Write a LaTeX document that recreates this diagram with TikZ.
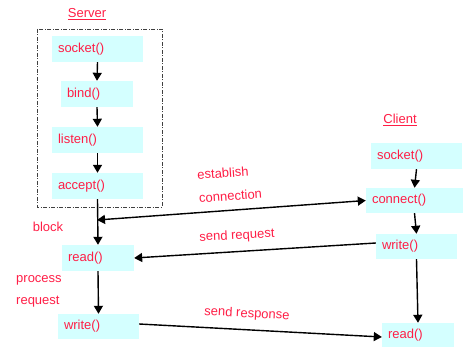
\documentclass[tikz,border=0pt]{standalone}
\usepackage{fontspec}
\setmainfont{Liberation Sans}
\usetikzlibrary{arrows.meta}
\definecolor{txtred}{RGB}{255,30,70}
\definecolor{boxfill}{RGB}{212,255,255}
\begin{document}
\begin{tikzpicture}[x=1pt,y=-1pt,
  font=\fontsize{13}{15}\selectfont,
  lbl/.style={text=txtred, inner sep=0pt},
  fbox/.style={fill=boxfill, text=txtred, inner ysep=0pt, inner xsep=6pt, align=left, anchor=center},
  arr/.style={line width=1.4pt, -{Triangle[length=8pt,width=9pt]}},
  darr/.style={line width=1.4pt, {Triangle[length=8pt,width=9pt]}-{Triangle[length=8pt,width=9pt]}}
]
\useasboundingbox (0,0) rectangle (463,347);
% dashed server frame
\draw[black!75, line width=0.9pt, dash pattern=on 4pt off 1.5pt on 1pt off 1.5pt] (37,29) rectangle (162,207);
% titles
\node[lbl] (tserver) at (87,14) {\underline{Server}};
\node[lbl] (tclient) at (400,120) {\underline{Client}};
% server boxes
\node[fbox, text width=79pt, minimum height=26pt] (ssock) at (97.5,49) {socket()};
\node[fbox, text width=60pt, minimum height=26pt] (sbind) at (97,94) {bind()};
\node[fbox, text width=79pt, minimum height=26pt] (slisten) at (97.5,140) {listen()};
\node[fbox, text width=79pt, minimum height=26pt] (saccept) at (97.5,186) {accept()};
\node[fbox, text width=60pt, minimum height=26pt] (sread) at (98,258) {read()};
\node[fbox, text width=69pt, minimum height=25pt] (swrite) at (98.5,326.5) {write()};
% client boxes
\node[fbox, text width=79pt, minimum height=26pt] (csock) at (416.5,156) {socket()};
\node[fbox, text width=85pt, minimum height=25pt] (cconn) at (414.5,200.5) {connect()};
\node[fbox, text width=69pt, minimum height=25pt] (cwrite) at (416.5,246.5) {write()};
\node[fbox, text width=60pt, minimum height=24pt] (cread) at (418,335) {read()};
% server arrows
\draw[arr] (ssock.south) -- (sbind.north);
\draw[arr] (sbind.south) -- (slisten.north);
\draw[arr] (slisten.south) -- (saccept.north);
\draw[arr] (saccept.south) -- (sread.north);
\draw[arr] (sread.south) -- (swrite.north);
% client arrows
\draw[arr] (csock.south) -- (cconn.north);
\draw[arr] (cconn.south) -- (cwrite.north);
\draw[arr] (cwrite.south) -- (cread.north);
% interactions
\coordinate (blk) at (97,220);
\draw[darr] (blk) -- (cconn.west);
\draw[arr] ([yshift=3.5pt]cwrite.west) -- (sread.east);
\draw[arr] ([yshift=2.5pt]swrite.east) -- ([yshift=-2pt]cread.west);
% labels
\node[lbl] (lblock) at (48,227) {block};
\node[lbl, anchor=west] (lproc) at (16,280) {process};
\node[lbl, anchor=west] (lreq) at (16,302) {request};
\node[lbl, rotate=4] (lest) at (223,173) {establish};
\node[lbl, rotate=4] (lconn) at (230.5,196) {connection};
\node[lbl, rotate=3] (lsreq) at (237,236) {send request};
\node[lbl, rotate=-3] (lsresp) at (247,314) {send response};
\end{tikzpicture}
\end{document}
